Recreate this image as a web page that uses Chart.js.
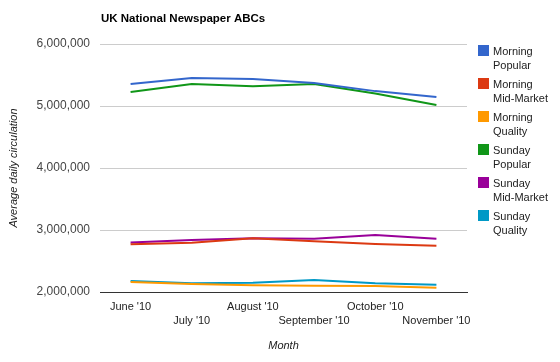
<!DOCTYPE html>
<html>
<head>
<meta charset="utf-8">
<script src="https://cdn.jsdelivr.net/npm/chart.js@4/dist/chart.umd.min.js"></script>
<style>
  html, body { margin: 0; padding: 0; background: #fff; }
  #wrap { position: relative; width: 560px; height: 362px; }
  #legend { position: absolute; left: 478px; top: 44px; font-family: Arial, "Liberation Sans", sans-serif; font-size: 11px; color: #222; }
  #legend .item { position: relative; height: 33px; }
  #legend .box { position: absolute; left: 0; top: 1px; width: 11px; height: 11px; }
  #legend .txt { position: absolute; left: 15px; top: 0; line-height: 14px; white-space: nowrap; }
</style>
</head>
<body>
<div id="wrap">
  <canvas id="grafico" width="560" height="362"></canvas>
  <div id="legend"></div>
</div>
<script>
const months = ["June '10", "July '10", "August '10", "September '10", "October '10", "November '10"];
const yTicks = [2000000, 3000000, 4000000, 5000000, 6000000];

const morningPopular    = [5355000, 5450000, 5435000, 5370000, 5240000, 5145000];
const morningMidMarket  = [2770000, 2795000, 2865000, 2820000, 2775000, 2745000];
const morningQuality    = [2160000, 2130000, 2110000, 2100000, 2095000, 2070000];
const sundayPopular     = [5225000, 5355000, 5320000, 5355000, 5200000, 5015000];
const sundayMidMarket   = [2800000, 2840000, 2865000, 2860000, 2920000, 2860000];
const sundayQuality     = [2177000, 2140000, 2150000, 2195000, 2140000, 2118000];

const series = [
  { label: ['Morning', 'Popular'], data: morningPopular, color: '#3366cc' },
  { label: ['Morning', 'Mid-Market'], data: morningMidMarket, color: '#dc3912' },
  { label: ['Morning', 'Quality'], data: morningQuality, color: '#ff9900' },
  { label: ['Sunday', 'Popular'], data: sundayPopular, color: '#109618' },
  { label: ['Sunday', 'Mid-Market'], data: sundayMidMarket, color: '#990099' },
  { label: ['Sunday', 'Quality'], data: sundayQuality, color: '#0099c6' }
];

const FONT = 'Arial, "Liberation Sans", sans-serif';

// legenda em HTML (duas linhas por item)
const legendEl = document.getElementById('legend');
series.forEach(s => {
  const item = document.createElement('div');
  item.className = 'item';
  item.innerHTML = '<div class="box" style="background:' + s.color + '"></div>' +
    '<div class="txt">' + s.label.join('<br>') + '</div>';
  legendEl.appendChild(item);
});

// titulo alinhado com a area do grafico
const titlePlugin = {
  id: 'titleLeft',
  afterDraw(chart) {
    const c = chart.ctx;
    c.save();
    c.font = 'bold 11.5px ' + FONT;
    c.fillStyle = '#000';
    c.textBaseline = 'middle';
    c.fillText('UK National Newspaper ABCs', chart.chartArea.left + 1, 19);
    c.restore();
  }
};

new Chart(document.getElementById('grafico'), {
  type: 'line',
  data: {
    labels: months,
    datasets: series.map(s => ({
      label: s.label.join(' '),
      data: s.data,
      borderColor: s.color,
      backgroundColor: s.color,
      borderWidth: 2,
      pointRadius: 0,
      tension: 0,
      fill: false
    }))
  },
  plugins: [titlePlugin],
  options: {
    responsive: false,
    animation: false,
    layout: { padding: { top: 44, right: 93, left: 0, bottom: 0 } },
    plugins: {
      legend: { display: false },
      tooltip: { enabled: false }
    },
    scales: {
      x: {
        offset: true,
        afterFit: s => { s.height = 70; },
        grid: { display: false, drawTicks: false },
        border: { display: true, color: '#333', width: 1 },
        ticks: {
          autoSkip: false,
          maxRotation: 0,
          minRotation: 0,
          padding: 7,
          color: '#222',
          font: { family: FONT, size: 11, lineHeight: 1.36 },
          callback: function(value, index) {
            const lbl = this.getLabelForValue(value);
            return index % 2 === 0 ? [lbl] : ['', lbl];
          }
        },
        title: {
          display: true,
          text: 'Month',
          color: '#222',
          padding: { top: 0, bottom: 9 },
          font: { family: FONT, size: 11, style: 'italic' }
        }
      },
      y: {
        min: 2000000,
        max: 6000000,
        afterFit: s => { s.width = 100; },
        afterBuildTicks: s => { s.ticks = yTicks.map(v => ({ value: v })); },
        grid: {
          drawTicks: false,
          color: ctx => ctx.tick && ctx.tick.value === 2000000 ? 'rgba(0,0,0,0)' : '#cccccc'
        },
        border: { display: false },
        ticks: {
          padding: 10,
          color: '#444',
          font: { family: FONT, size: 12 },
          callback: v => v.toLocaleString('en-US')
        },
        title: {
          display: true,
          text: 'Average daily circulation',
          color: '#222',
          padding: { top: 7, bottom: 0 },
          font: { family: FONT, size: 11, style: 'italic' }
        }
      }
    }
  }
});
</script>
</body>
</html>
